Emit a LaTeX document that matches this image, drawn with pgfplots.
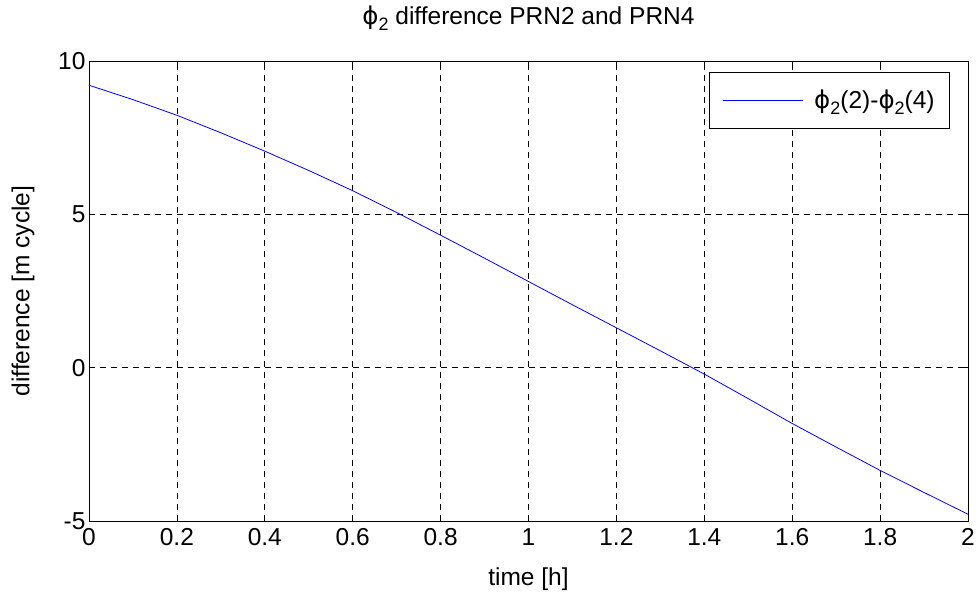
\documentclass[border=0pt]{standalone}
\usepackage{pgfplots}
\pgfplotsset{compat=1.18}
\usepackage{fontspec}
\setmainfont{Liberation Sans}
\newfontfamily\dv{DejaVu Sans}
\newcommand{\ph}{{\dv ϕ}\raisebox{-0.45ex}{\fontsize{18}{18}\selectfont 2}}
\begin{document}
\begin{tikzpicture}
\path[use as bounding box] (-89pt,-71pt) rectangle ++(978pt,592pt);
\begin{axis}[
  at={(0pt,0pt)}, anchor=south west,
  scale only axis, width=879pt, height=460pt,
  xmin=0, xmax=2, ymin=-5, ymax=10,
  xtick={0,0.2,0.4,0.6,0.8,1,1.2,1.4,1.6,1.8,2},
  xticklabels={0,0.2,0.4,0.6,0.8,1,1.2,1.4,1.6,1.8,2},
  ytick={-5,0,5,10}, yticklabels={-5,0,5,10},
  grid=major,
  major grid style={black, line width=0.7pt, dash pattern=on 6pt off 5pt},
  tick align=inside, major tick length=6pt,
  tick style={black, line width=0.7pt},
  axis line style={black, line width=0.9pt},
  ticklabel style={font=\fontsize{24.5}{28}\selectfont},
  xticklabel style={yshift=-4pt},
  label style={font=\fontsize{24.5}{28}\selectfont},
  xlabel={time [h]},
  ylabel={difference [m cycle]},
  xlabel style={at={(rel axis cs:0.5,0)}, anchor=center, yshift=-58pt},
  ylabel style={at={(axis description cs:-0.075,0.5)}, anchor=center},
  title={\ph\ difference PRN2 and PRN4},
  title style={font=\fontsize{24.5}{28}\selectfont, at={(rel axis cs:0.5,1)}, anchor=center, yshift=37pt},
  legend style={at={(rel axis cs:0.9795,0.977)}, anchor=north east, draw=black, line width=0.7pt, fill=white,
    font=\fontsize{24.5}{28}\selectfont, inner xsep=13pt, inner ysep=16pt, column sep=9pt},
  legend cell align=left,
  legend image code/.code={\draw[#1, line width=0.7pt] (0pt,0pt) -- (80pt,0pt);},
]
\addplot[blue, line width=0.8pt] coordinates {
(0,9.21) (0.1,8.74) (0.2,8.23) (0.3,7.66) (0.4,7.06) (0.5,6.43) (0.6,5.77) (0.7,5.06)
(0.8,4.32) (0.9,3.57) (1.0,2.81) (1.1,2.05) (1.2,1.30) (1.3,0.55) (1.4,-0.21)
(1.5,-1.01) (1.6,-1.82) (1.7,-2.59) (1.8,-3.35) (1.9,-4.07) (2.0,-4.78)
};
\addlegendentry{\ph(2)-\ph(4)}
\end{axis}
\end{tikzpicture}
\end{document}
